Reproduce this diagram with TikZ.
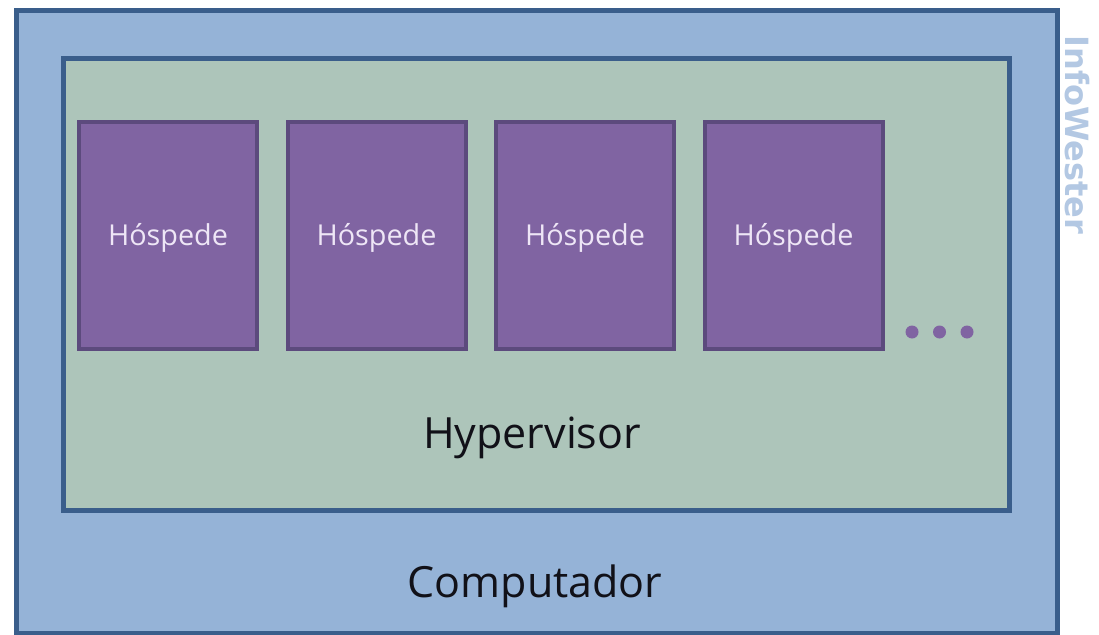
\documentclass[tikz,border=0pt]{standalone}
\usepackage{fontspec}
\newfontfamily\osans{Open Sans}
\newfontfamily\dvbold{DejaVu Sans}[BoldFont={DejaVu Sans Bold}]
\definecolor{compfill}{HTML}{95B3D7}
\definecolor{compline}{HTML}{3A5E8B}
\definecolor{hypfill}{HTML}{ADC5BA}
\definecolor{guestfill}{HTML}{8064A2}
\definecolor{guestline}{HTML}{5C4A7D}
\definecolor{guesttext}{HTML}{EEE6F6}
\definecolor{darktext}{HTML}{111118}
\definecolor{brand}{HTML}{B3C8E3}
\tikzset{
  layerbox/.style={draw=compline, line width=5pt, rectangle, anchor=north west, inner sep=0pt},
  guestbox/.style={draw=guestline, fill=guestfill, line width=4pt, rectangle, anchor=north west,
    minimum width=178pt, minimum height=227pt, inner sep=0pt,
    text=guesttext, font=\osans\fontsize{28.8}{30}\selectfont, text height=20pt, text depth=0pt},
  biglabel/.style={anchor=base, text=darktext, font=\osans\fontsize{43}{45}\selectfont, inner sep=0pt},
  dotmark/.style={circle, fill=guestfill, minimum size=13pt, inner sep=0pt},
}
\begin{document}
\begin{tikzpicture}[x=1pt,y=-1pt]
\useasboundingbox (0,0) rectangle (1099,634);
\fill[white] (0,0) rectangle (1099,634);
\node[layerbox, fill=compfill, minimum width=1041pt, minimum height=623pt] (comp) at (14,8) {};
\node[layerbox, fill=hypfill, minimum width=946pt, minimum height=452pt] (hyp) at (61,56) {};
\node[guestbox] (g1) at (77,120) {Hóspede};
\node[guestbox] (g2) at (285.5,120) {Hóspede};
\node[guestbox] (g3) at (494,120) {Hóspede};
\node[guestbox] (g4) at (702.5,120) {Hóspede};
\node[dotmark] (d1) at (912,332) {};
\node[dotmark] (d2) at (939.5,332) {};
\node[dotmark] (d3) at (967,332) {};
\node[biglabel] (hyplabel) at (532,448) {Hypervisor};
\node[biglabel] (complabel) at (535,597) {Computador};
\node[rotate=-90, text=brand, font=\dvbold\bfseries\fontsize{32}{34}\selectfont, inner sep=0pt] (brandlabel) at (1077,135) {InfoWester};
\end{tikzpicture}
\end{document}
